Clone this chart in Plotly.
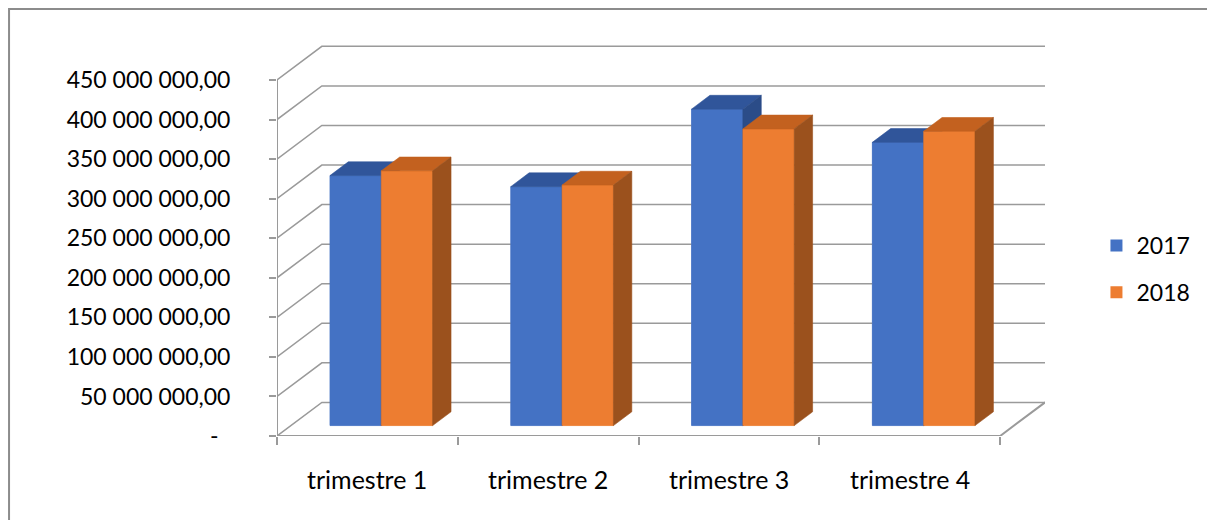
import plotly.graph_objects as go

# ---- data ----
categories = ["trimestre 1", "trimestre 2", "trimestre 3", "trimestre 4"]
series_names = ["2017", "2018"]
values_2017 = [316e6, 302e6, 400e6, 358e6]
values_2018 = [322e6, 304e6, 375e6, 372e6]
y_tickvals = [0, 50e6, 100e6, 150e6, 200e6, 250e6, 300e6, 350e6, 400e6, 450e6]

# ---- style / projection ----
front_colors = ["#4472C4", "#ED7D31"]
top_colors = ["#30559A", "#C3611F"]
side_colors = ["#2B4C88", "#9B511D"]
GRID = "#9a9a9a"
FONT = "Lato"

DX = 0.248          # depth offset in category units
DY = 42.5e6         # depth offset in value units
D0 = 0.31           # depth fraction of the bar front face
DD = 0.41           # depth fraction of the bar thickness
BW = 0.284          # bar width in category units
YMAX = 495.5e6
XMAX = len(categories) + DX


def fmt(v):
    if v == 0:
        return "-\u00a0\u00a0"
    return f"{v:,.2f}".replace(",", " ").replace(".", ",")


y_ticktext = [fmt(v) for v in y_tickvals]
series_values = [values_2017, values_2018]

fig = go.Figure()

# back wall gridlines + side diagonals (from tick values)
gx, gy = [], []
for v in y_tickvals:
    gx += [0, DX, len(categories) + DX, None]
    gy += [v, v + DY, v + DY, None]
fig.add_trace(go.Scatter(x=gx, y=gy, mode="lines", line=dict(color=GRID, width=1.5),
                         hoverinfo="skip", showlegend=False))

# front axes and floor edge
ax_x = [0, 0, None, 0, len(categories), len(categories) + DX]
ax_y = [y_tickvals[-1], 0, None, 0, 0, DY]
fig.add_trace(go.Scatter(x=ax_x, y=ax_y, mode="lines", line=dict(color=GRID, width=2),
                         hoverinfo="skip", showlegend=False))

# legend / base bars (front faces)
base = DY * D0
for s, (name, vals) in enumerate(zip(series_names, series_values)):
    xs = [i + 0.5 - BW + s * BW + BW / 2 + DX * D0 for i in range(len(categories))]
    fig.add_trace(go.Bar(x=xs, y=vals, base=[base] * len(vals), width=BW, name=name,
                         legendgroup=name,
                         marker=dict(color=front_colors[s], line=dict(width=0)),
                         hovertext=categories, hoverinfo="text+y"))

# 3D faces, painter's order: series 0 then series 1
ddx, ddy = DX * DD, DY * DD
for s, vals in enumerate(series_values):
    fx, fy, tx, ty, sx, sy = [], [], [], [], [], []
    for i, v in enumerate(vals):
        xl = i + 0.5 - BW + s * BW + DX * D0
        xr = xl + BW
        top = base + v
        fx += [xl, xr, xr, xl, xl, None]
        fy += [base, base, top, top, base, None]
        tx += [xl, xr, xr + ddx, xl + ddx, xl, None]
        ty += [top, top, top + ddy, top + ddy, top, None]
        sx += [xr, xr + ddx, xr + ddx, xr, xr, None]
        sy += [base, base + ddy, top + ddy, top, base, None]
    for px, py, col in [(fx, fy, front_colors[s]), (tx, ty, top_colors[s]), (sx, sy, side_colors[s])]:
        fig.add_trace(go.Scatter(x=px, y=py, mode="lines", fill="toself", fillcolor=col,
                                 line=dict(color=col, width=0.6), hoverinfo="skip",
                                 showlegend=False))

# category labels
for i, c in enumerate(categories):
    fig.add_annotation(x=i + 0.5, y=0, xref="x", yref="y", text=c, showarrow=False,
                       yanchor="middle", yshift=-43, font=dict(family=FONT, size=25, color="#000"))

# outer frame
fig.add_shape(type="rect", xref="paper", yref="paper", x0=-0.3489, x1=1.4, y0=-0.4, y1=1.0893,
              line=dict(color="#8c8c8c", width=2), fillcolor="rgba(0,0,0,0)", layer="below")

fig.update_layout(
    width=1207, height=520,
    margin=dict(l=277, r=159, t=44, b=84),
    paper_bgcolor="white", plot_bgcolor="white",
    barmode="overlay",
    font=dict(family=FONT, size=23, color="#000"),
    xaxis=dict(range=[0, XMAX], tickvals=list(range(len(categories) + 1)),
               ticktext=[""] * (len(categories) + 1), ticks="outside", ticklen=8,
               tickwidth=2, tickcolor=GRID, showgrid=False, zeroline=False, showline=False,
               fixedrange=True),
    yaxis=dict(range=[0, YMAX], tickvals=y_tickvals, ticktext=y_ticktext, ticks="outside",
               ticklen=7, tickwidth=2, tickcolor=GRID, showgrid=False, zeroline=False,
               showline=False, ticklabelstandoff=34, tickfont=dict(family=FONT, size=23),
               fixedrange=True),
    legend=dict(x=1.067, xanchor="left", y=0.426, yanchor="middle", tracegroupgap=14,
                font=dict(family=FONT, size=23), bgcolor="rgba(0,0,0,0)"),
    showlegend=True,
)

fig.write_html("out.html")
